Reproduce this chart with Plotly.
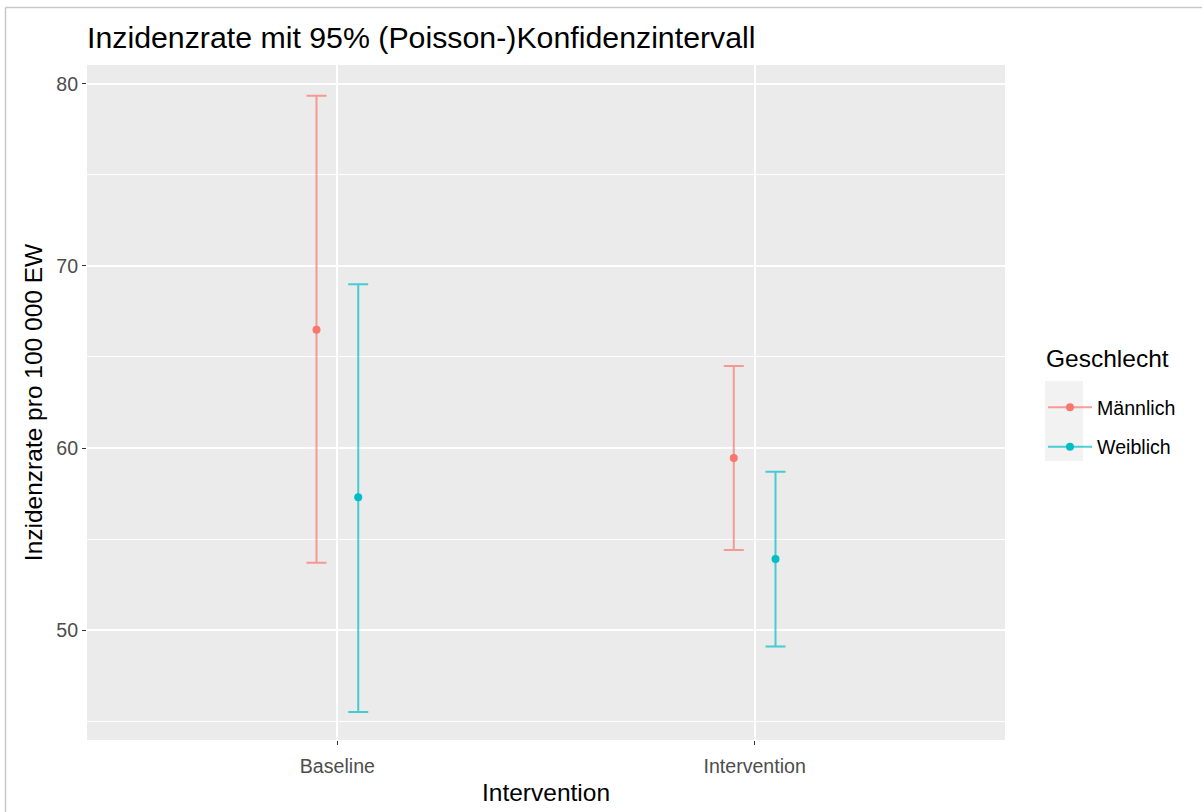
import plotly.graph_objects as go

categories = ["Baseline", "Intervention"]
groups = ["Männlich", "Weiblich"]
rate_m = [66.5, 59.45]
lower_m = [53.7, 54.4]
upper_m = [79.35, 64.5]
rate_w = [57.3, 53.9]
lower_w = [45.5, 49.1]
upper_w = [69.0, 58.7]
dodge = [-0.05, 0.05]
colors = ["#F8766D", "#00BFC4"]
colors_a = ["rgba(248,118,109,0.7)", "rgba(0,191,196,0.7)"]

series = [(rate_m, lower_m, upper_m), (rate_w, lower_w, upper_w)]

fig = go.Figure()
for gi, (g, (r, lo, up)) in enumerate(zip(groups, series)):
    xs = [i + dodge[gi] for i in range(len(categories))]
    fig.add_trace(go.Scatter(
        x=xs, y=r, mode="markers", showlegend=False,
        marker=dict(color=colors[gi], size=8),
        error_y=dict(type="data", symmetric=False,
                     array=[u - v for u, v in zip(up, r)],
                     arrayminus=[v - l for v, l in zip(r, lo)],
                     color=colors_a[gi], thickness=2, width=10),
    ))
for gi, g in enumerate(groups):
    fig.add_trace(go.Scatter(
        x=[None], y=[None], mode="lines+markers", name=g,
        line=dict(color=colors_a[gi], width=2),
        marker=dict(color=colors[gi], size=8),
        legendgroup=g,
    ))

L, T, W, H = 87, 65, 918, 675
def px(x):
    return (x - L) / W
def py(y):
    return (T + H - y) / H

shapes = [
    dict(type="rect", xref="paper", yref="paper", x0=px(1045), x1=px(1083), y0=py(461), y1=py(381),
         fillcolor="#F2F2F2", line=dict(width=0), layer="below"),
    dict(type="line", xref="paper", yref="paper", x0=px(5.5), x1=px(1202), y0=py(7.5), y1=py(7.5),
         line=dict(color="#C8C8C8", width=1.5)),
    dict(type="line", xref="paper", yref="paper", x0=px(5.5), x1=px(5.5), y0=py(7.5), y1=py(812),
         line=dict(color="#C8C8C8", width=1.5)),
]

annotations = [
    dict(text="Geschlecht", xref="paper", yref="paper", x=px(1044), y=py(358), xanchor="left",
         yanchor="middle", showarrow=False, font=dict(size=24.5, color="black")),
]

fig.update_layout(
    width=1202, height=812,
    margin=dict(l=L, r=1202 - L - W, t=T, b=812 - T - H, autoexpand=False),
    paper_bgcolor="white", plot_bgcolor="#EBEBEB",
    font=dict(family="Liberation Sans, Arial, sans-serif", color="black"),
    title=dict(text="Inzidenzrate mit 95% (Poisson-)Konfidenzintervall", xref="paper", x=0, xanchor="left",
               yref="container", y=1 - 37 / 812, yanchor="middle", font=dict(size=30.3, color="black")),
    xaxis=dict(range=[-0.6, 1.6], tickvals=[0, 1], ticktext=categories, showgrid=True,
               gridcolor="white", gridwidth=1.5, zeroline=False, ticks="outside", ticklen=4,
               tickcolor="#333333", tickwidth=1, tickfont=dict(size=19.6, color="#4D4D4D"),
               ticklabelstandoff=4, automargin=False,
               title=dict(text="Intervention", font=dict(size=24.5, color="black"), standoff=8)),
    yaxis=dict(range=[43.96, 81.04], tick0=50, dtick=10, showgrid=True, gridcolor="white",
               gridwidth=1.5, zeroline=False, ticks="outside", ticklen=4, tickcolor="#333333",
               tickwidth=1, tickfont=dict(size=19.6, color="#4D4D4D"), automargin=False,
               minor=dict(dtick=5, tick0=45, showgrid=True, gridcolor="white", gridwidth=0.8, ticks=""),
               title=dict(text="Inzidenzrate pro 100 000 EW", font=dict(size=24.5, color="black"), standoff=6)),
    legend=dict(x=px(1043), xanchor="left", y=py(388), yanchor="top", bgcolor="rgba(0,0,0,0)",
                font=dict(size=19.6, color="black"), tracegroupgap=11, itemwidth=44),
    annotations=annotations,
    shapes=shapes,
)

fig.write_html("out.html")
